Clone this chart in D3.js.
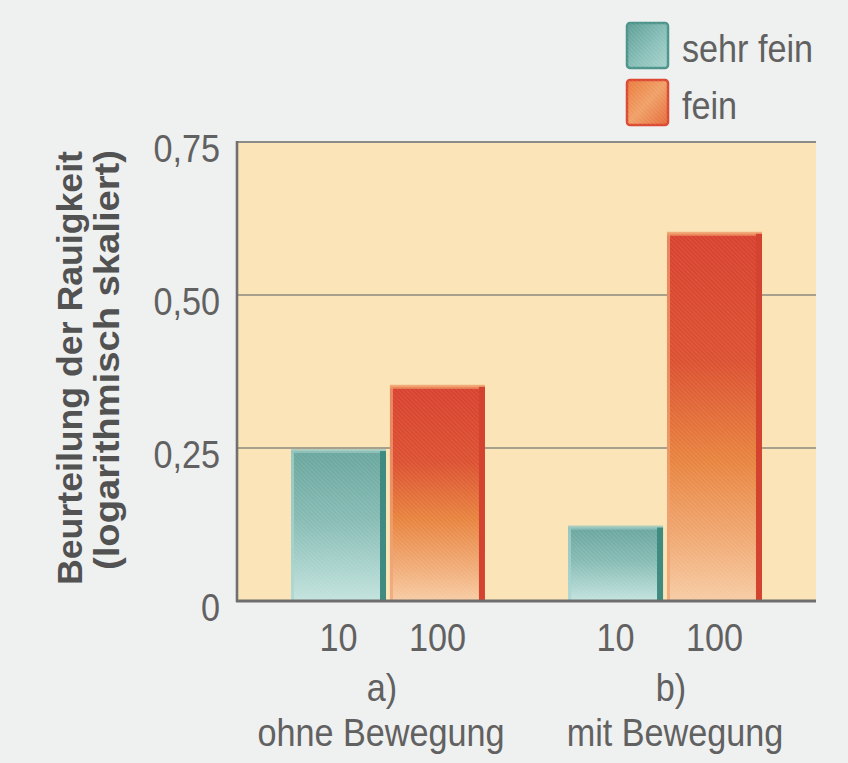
<!DOCTYPE html>
<html>
<head>
<meta charset="utf-8">
<script src="https://cdn.jsdelivr.net/npm/d3@7"></script>
<style>
  html, body { margin: 0; padding: 0; background: #eff0f0; }
  svg { display: block; }
  text { font-family: "Liberation Sans", Arial, Helvetica, sans-serif; }
</style>
</head>
<body>
<svg id="chart" width="848" height="763"></svg>
<script>
// Roughness ratings for two touch conditions
const groups = ["a)", "b)"];
const groupNames = ["ohne Bewegung", "mit Bewegung"];
const series = ["sehr fein", "fein"];
const seriesTicks = ["10", "100"];
const sehrFein = [0.245, 0.12];
const fein = [0.35, 0.60];
const yTicks = [0, 0.25, 0.5, 0.75];
const yTitle = ["Beurteilung der Rauigkeit", "(logarithmisch skaliert)"];

const W = 848, H = 763;
const plot = { left: 237, right: 816, top: 142, bottom: 601 };
const squeeze = 0.9;      // narrow print face
const fontSize = 38;
const textColor = "#616161";

const svg = d3.select("#chart");
const defs = svg.append("defs");

// gradients for the two series
function vGrad(id, stops) {
  const g = defs.append("linearGradient").attr("id", id)
    .attr("x1", 0).attr("y1", 0).attr("x2", 0).attr("y2", 1);
  stops.forEach(([o, c]) => g.append("stop").attr("offset", o).attr("stop-color", c));
}
vGrad("gTeal", [[0, "#69a69d"], [0.45, "#86bbb4"], [1, "#c3e3de"]]);
vGrad("gRed", [[0, "#d8412f"], [0.35, "#dc5131"], [0.62, "#e8843f"], [0.85, "#f1ad79"], [1, "#f7cca4"]]);

const lg1 = defs.append("linearGradient").attr("id", "lgTeal")
  .attr("x1", 0).attr("y1", 0).attr("x2", 1).attr("y2", 1);
[[0, "#5d9e95"], [0.6, "#8cc2bb"], [1, "#a9d3cd"]].forEach(([o, c]) => lg1.append("stop").attr("offset", o).attr("stop-color", c));
const lg2 = defs.append("linearGradient").attr("id", "lgRed")
  .attr("x1", 0).attr("y1", 0).attr("x2", 1).attr("y2", 1);
[[0, "#ea7a3c"], [0.5, "#f0a067"], [1, "#e56a3a"]].forEach(([o, c]) => lg2.append("stop").attr("offset", o).attr("stop-color", c));

// fine diagonal print screen
const pat = defs.append("pattern").attr("id", "hatch")
  .attr("width", 3).attr("height", 3)
  .attr("patternUnits", "userSpaceOnUse")
  .attr("patternTransform", "rotate(-45)");
pat.append("line").attr("x1", 0).attr("y1", 0).attr("x2", 0).attr("y2", 3)
  .attr("stroke", "#ffffff").attr("stroke-width", 1).attr("stroke-opacity", 0.18);

// scales
const x0 = d3.scaleBand().domain(groups).range([plot.left, plot.right])
  .paddingInner(0.3).paddingOuter(0.195);
const x1 = d3.scaleBand().domain(series).range([0, x0.bandwidth()]).paddingInner(0.04);
const y = d3.scaleLinear().domain([0, 0.75]).range([plot.bottom, plot.top]);

// plot background
svg.append("rect")
  .attr("x", plot.left).attr("y", plot.top)
  .attr("width", plot.right - plot.left).attr("height", plot.bottom - plot.top)
  .attr("fill", "#fbe4b7");

// gridlines
svg.append("g")
  .selectAll("line").data(yTicks.filter(d => d > 0 && d < 0.75)).join("line")
  .attr("x1", plot.left).attr("x2", plot.right)
  .attr("y1", d => y(d)).attr("y2", d => y(d))
  .attr("stroke", "#8c887e").attr("stroke-width", 1.6);

// bars
const rows = groups.map((g, i) => ({ group: g, values: [
  { key: series[0], value: sehrFein[i] },
  { key: series[1], value: fein[i] }
]}));

const style = {
  "sehr fein": { fill: "url(#gTeal)", edge: "#3f8b81", light: "#a9d4ce", top: "#93c6bf" },
  "fein": { fill: "url(#gRed)", edge: "#d3432f", light: "#f0a374", top: "#ef9a66" }
};

const gBars = svg.append("g").selectAll("g").data(rows).join("g")
  .attr("transform", d => `translate(${x0(d.group)},0)`);

const bar = gBars.selectAll("g").data(d => d.values).join("g");
bar.append("rect")
  .attr("x", d => x1(d.key)).attr("y", d => y(d.value))
  .attr("width", x1.bandwidth()).attr("height", d => y(0) - y(d.value))
  .attr("fill", d => style[d.key].fill);
bar.append("rect")
  .attr("x", d => x1(d.key)).attr("y", d => y(d.value))
  .attr("width", x1.bandwidth()).attr("height", d => y(0) - y(d.value))
  .attr("fill", "url(#hatch)");
// soft light fringe on the left and top
bar.append("rect")
  .attr("x", d => x1(d.key)).attr("y", d => y(d.value))
  .attr("width", 3).attr("height", d => y(0) - y(d.value))
  .attr("fill", d => style[d.key].light).attr("opacity", 0.7);
bar.append("rect")
  .attr("x", d => x1(d.key)).attr("y", d => y(d.value) - 2)
  .attr("width", x1.bandwidth()).attr("height", 4)
  .attr("fill", d => style[d.key].top).attr("opacity", 0.8);
// darker right edge
bar.append("rect")
  .attr("x", d => x1(d.key) + x1.bandwidth() - 6).attr("y", d => y(d.value))
  .attr("width", 6).attr("height", d => y(0) - y(d.value))
  .attr("fill", d => style[d.key].edge);

// axis frame: top border, left axis, baseline
svg.append("line")
  .attr("x1", plot.left).attr("x2", plot.right)
  .attr("y1", plot.top).attr("y2", plot.top)
  .attr("stroke", "#8a8a88").attr("stroke-width", 2);
svg.append("line")
  .attr("x1", plot.left).attr("x2", plot.left)
  .attr("y1", plot.top - 1).attr("y2", plot.bottom + 1)
  .attr("stroke", "#707070").attr("stroke-width", 2.6);
svg.append("line")
  .attr("x1", plot.left - 1).attr("x2", plot.right)
  .attr("y1", plot.bottom).attr("y2", plot.bottom)
  .attr("stroke", "#6e6e6e").attr("stroke-width", 3);

// y axis labels
const fmt = d => d === 0 ? "0" : d3.format(".2f")(d).replace(".", ",");
const yAxis = svg.append("g")
  .attr("transform", `translate(${plot.left},0)`)
  .call(d3.axisLeft(y).tickValues(yTicks).tickFormat(fmt).tickSize(0).tickPadding(0));
yAxis.select(".domain").remove();
yAxis.selectAll("text")
  .attr("font-size", fontSize)
  .attr("font-family", "'Liberation Sans', Arial, sans-serif")
  .attr("fill", textColor)
  .attr("x", -17 / squeeze)
  .attr("dy", "0.52em")
  .attr("transform", `scale(${squeeze},1)`);

// x labels under each bar, then group letter and name
const groupShift = [-6, 6];
const nameShift = [-7, 10];
const xLab = svg.append("g");
groups.forEach((g, i) => {
  series.forEach((s, j) => {
    const cx = x0(g) + x1(s) + x1.bandwidth() / 2;
    xLab.append("text")
      .attr("transform", `translate(${cx},651) scale(${squeeze},1)`)
      .attr("text-anchor", "middle")
      .attr("font-size", fontSize).attr("fill", textColor)
      .text(seriesTicks[j]);
  });
  const gx = x0(g) + x0.bandwidth() / 2;
  xLab.append("text")
    .attr("transform", `translate(${gx + groupShift[i]},701) scale(${squeeze},1)`)
    .attr("text-anchor", "middle")
    .attr("font-size", fontSize).attr("fill", textColor)
    .text(g);
  xLab.append("text")
    .attr("transform", `translate(${gx + nameShift[i]},746) scale(${squeeze},1)`)
    .attr("text-anchor", "middle")
    .attr("font-size", fontSize).attr("fill", textColor)
    .text(groupNames[i]);
});

// y title, two lines
[[82, 368, 434], [119, 360, 420]].forEach(([bx, cy, len], i) => {
  svg.append("text")
    .attr("transform", `translate(${bx},${cy}) rotate(-90)`)
    .attr("text-anchor", "middle")
    .attr("font-size", 35.5).attr("font-weight", "bold")
    .attr("textLength", len).attr("lengthAdjust", "spacingAndGlyphs")
    .attr("fill", "#525252")
    .text(yTitle[i]);
});

// legend
const legend = svg.append("g");
const legendFill = ["url(#lgTeal)", "url(#lgRed)"];
const legendEdge = ["#4d958b", "#dc4a33"];
series.forEach((s, i) => {
  const ly = 23 + i * 57;
  legend.append("rect")
    .attr("x", 627).attr("y", ly).attr("width", 41).attr("height", 45)
    .attr("rx", 3)
    .attr("fill", legendFill[i])
    .attr("stroke", legendEdge[i]).attr("stroke-width", 2.5);
  legend.append("rect")
    .attr("x", 627).attr("y", ly).attr("width", 41).attr("height", 45)
    .attr("rx", 3).attr("fill", "url(#hatch)");
  legend.append("text")
    .attr("transform", `translate(682,${ly + 39}) scale(${squeeze},1)`)
    .attr("font-size", fontSize).attr("fill", textColor)
    .text(s);
});
</script>
</body>
</html>
